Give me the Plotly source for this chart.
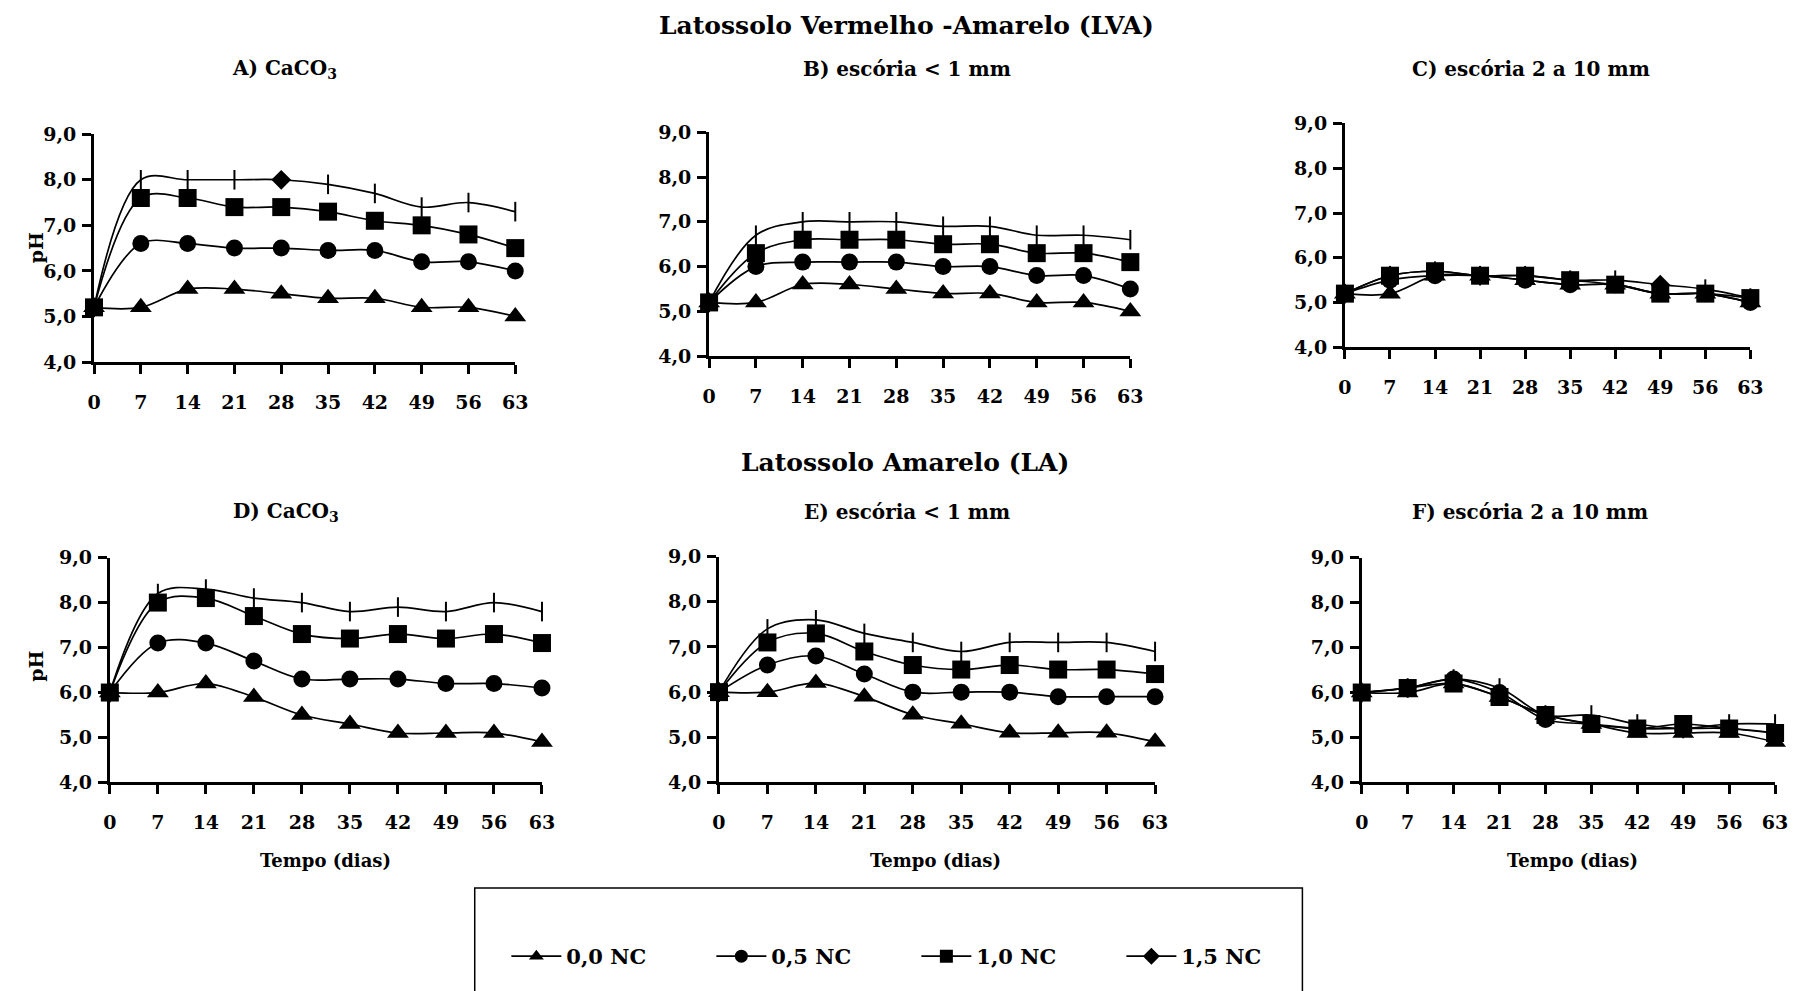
import plotly.graph_objects as go

W, H = 1795, 991

days = [0, 7, 14, 21, 28, 35, 42, 49, 56, 63]
doses = ["0,0 NC", "0,5 NC", "1,0 NC", "1,5 NC"]
ph_ticks = [4, 5, 6, 7, 8, 9]

# Latossolo Vermelho-Amarelo (LVA)
lva_caco3_00 = [5.2, 5.2, 5.6, 5.6, 5.5, 5.4, 5.4, 5.2, 5.2, 5.0]
lva_caco3_05 = [5.2, 6.6, 6.6, 6.5, 6.5, 6.45, 6.45, 6.2, 6.2, 6.0]
lva_caco3_10 = [5.2, 7.6, 7.6, 7.4, 7.4, 7.3, 7.1, 7.0, 6.8, 6.5]
lva_caco3_15 = [5.2, 8.0, 8.0, 8.0, 8.0, 7.9, 7.7, 7.4, 7.5, 7.3]

lva_fina_00 = [5.2, 5.2, 5.6, 5.6, 5.5, 5.4, 5.4, 5.2, 5.2, 5.0]
lva_fina_05 = [5.2, 6.0, 6.1, 6.1, 6.1, 6.0, 6.0, 5.8, 5.8, 5.5]
lva_fina_10 = [5.2, 6.3, 6.6, 6.6, 6.6, 6.5, 6.5, 6.3, 6.3, 6.1]
lva_fina_15 = [5.2, 6.7, 7.0, 7.0, 7.0, 6.9, 6.9, 6.7, 6.7, 6.6]

lva_grossa_00 = [5.2, 5.2, 5.6, 5.6, 5.5, 5.4, 5.4, 5.2, 5.2, 5.0]
lva_grossa_05 = [5.2, 5.5, 5.6, 5.6, 5.5, 5.4, 5.4, 5.2, 5.2, 5.0]
lva_grossa_10 = [5.2, 5.6, 5.7, 5.6, 5.6, 5.5, 5.4, 5.2, 5.2, 5.1]
lva_grossa_15 = [5.2, 5.6, 5.7, 5.6, 5.6, 5.5, 5.5, 5.4, 5.3, 5.1]

# Latossolo Amarelo (LA)
la_caco3_00 = [6.0, 6.0, 6.2, 5.9, 5.5, 5.3, 5.1, 5.1, 5.1, 4.9]
la_caco3_05 = [6.0, 7.1, 7.1, 6.7, 6.3, 6.3, 6.3, 6.2, 6.2, 6.1]
la_caco3_10 = [6.0, 8.0, 8.1, 7.7, 7.3, 7.2, 7.3, 7.2, 7.3, 7.1]
la_caco3_15 = [6.0, 8.2, 8.3, 8.1, 8.0, 7.8, 7.9, 7.8, 8.0, 7.8]

la_fina_00 = [6.0, 6.0, 6.2, 5.9, 5.5, 5.3, 5.1, 5.1, 5.1, 4.9]
la_fina_05 = [6.0, 6.6, 6.8, 6.4, 6.0, 6.0, 6.0, 5.9, 5.9, 5.9]
la_fina_10 = [6.0, 7.1, 7.3, 6.9, 6.6, 6.5, 6.6, 6.5, 6.5, 6.4]
la_fina_15 = [6.0, 7.4, 7.6, 7.3, 7.1, 6.9, 7.1, 7.1, 7.1, 6.9]

la_grossa_00 = [6.0, 6.0, 6.2, 5.9, 5.5, 5.3, 5.1, 5.1, 5.1, 4.9]
la_grossa_05 = [6.0, 6.1, 6.3, 6.0, 5.4, 5.3, 5.2, 5.2, 5.2, 5.1]
la_grossa_10 = [6.0, 6.1, 6.2, 5.9, 5.5, 5.3, 5.2, 5.3, 5.2, 5.1]
la_grossa_15 = [6.0, 6.1, 6.3, 6.1, 5.5, 5.5, 5.3, 5.2, 5.3, 5.3]

panel_titles = ["A) CaCO<sub>3</sub>", "B) escória &lt; 1 mm", "C) escória 2 a 10 mm",
                "D) CaCO<sub>3</sub>", "E) escória &lt; 1 mm", "F) escória 2 a 10 mm"]
panel_series = [
    [lva_caco3_00, lva_caco3_05, lva_caco3_10, lva_caco3_15],
    [lva_fina_00, lva_fina_05, lva_fina_10, lva_fina_15],
    [lva_grossa_00, lva_grossa_05, lva_grossa_10, lva_grossa_15],
    [la_caco3_00, la_caco3_05, la_caco3_10, la_caco3_15],
    [la_fina_00, la_fina_05, la_fina_10, la_fina_15],
    [la_grossa_00, la_grossa_05, la_grossa_10, la_grossa_15],
]

# plot areas in pixels: (left, right, top, bottom)
boxes = [
    (88, 514, 126, 359),
    (710, 1136, 124, 353),
    (1353, 1763, 115, 344),
    (104, 541, 559, 789),
    (720, 1161, 558, 789),
    (1370, 1788, 559, 789),
]
title_pos = [(281, 59), (910, 59), (1541, 59), (282, 512), (910, 512), (1540, 512)]
xtitle_pos = [(322, 869), (939, 869), (1583, 869)]
# days on which the 1,5 NC series shows a full diamond marker
diamond_day = {0: 28, 2: 49}

FONT = "DejaVu Serif, serif"


def fx(px):
    return px / W


def fy(py):
    return 1 - py / H


symbols = ["triangle-up", "circle", "square", "diamond"]
sizes = [19, 17, 18, 13]

fig = go.Figure()

for p, series in enumerate(panel_series):
    xa = "x" if p == 0 else f"x{p + 1}"
    ya = "y" if p == 0 else f"y{p + 1}"
    for k, vals in enumerate(series):
        if k < 3:
            marker = dict(symbol=symbols[k], size=sizes[k], color="black",
                          opacity=1, line=dict(width=0))
        else:
            sym = ["diamond" if (p in diamond_day and d == diamond_day[p]) else "line-ns"
                   for d in days]
            sz = [sizes[3] if s == "diamond" else 14 for s in sym]
            marker = dict(symbol=sym, size=sz, color="black", opacity=1,
                          line=dict(width=2, color="black"))
        fig.add_trace(go.Scatter(
            x=days, y=vals, xaxis=xa, yaxis=ya, mode="lines+markers",
            line=dict(color="black", width=1.7, shape="spline", smoothing=1.0),
            marker=marker, cliponaxis=False, showlegend=False,
            name=doses[k],
        ))

# legend entries
for k, name in enumerate(doses):
    fig.add_trace(go.Scatter(
        x=[None], y=[None], mode="lines+markers", name=name,
        line=dict(color="black", width=1.7),
        marker=dict(symbol=symbols[k], size=13, color="black", opacity=1),
        showlegend=True,
    ))

axis_font = dict(family=FONT, size=19, color="black", weight="bold")
layout_axes = {}
for p, (l, r, t, b) in enumerate(boxes):
    xn = "xaxis" if p == 0 else f"xaxis{p + 1}"
    yn = "yaxis" if p == 0 else f"yaxis{p + 1}"
    ya = "y" if p == 0 else f"y{p + 1}"
    xa = "x" if p == 0 else f"x{p + 1}"
    layout_axes[xn] = dict(
        domain=[fx(l), fx(r)], anchor=ya, range=[0, 63],
        tickmode="array", tickvals=days, ticktext=[str(d) for d in days],
        showline=True, linewidth=3, linecolor="black", mirror=False,
        ticks="outside", ticklen=9, tickwidth=3, tickcolor="black",
        showgrid=False, zeroline=False, tickfont=axis_font,
        ticklabelstandoff=12, fixedrange=True,
    )
    layout_axes[yn] = dict(
        domain=[fy(b), fy(t)], anchor=xa, range=[4, 9],
        tickmode="array", tickvals=ph_ticks, tickformat=".1f",
        showline=True, linewidth=3, linecolor="black",
        ticks="outside", ticklen=9, tickwidth=3, tickcolor="black",
        showgrid=False, zeroline=False, tickfont=axis_font,
        ticklabelstandoff=2, fixedrange=True,
    )

annotations = []


def add_text(text, px, py, size, angle=0):
    annotations.append(dict(
        text=text, x=fx(px), y=fy(py), xref="paper", yref="paper",
        xanchor="center", yanchor="middle", showarrow=False, textangle=angle,
        font=dict(family=FONT, size=size, color="black", weight="bold"),
    ))


add_text("Latossolo Vermelho -Amarelo (LVA)", 910, 15, 25)
add_text("Latossolo Amarelo (LA)", 908, 462, 25)
for p, (tx, ty) in enumerate(title_pos):
    add_text(panel_titles[p], tx, ty, 20)
for tx, ty in xtitle_pos:
    add_text("Tempo (dias)", tx, ty, 18)
add_text("pH", 29, 242, 19, angle=-90)
add_text("pH", 29, 670, 19, angle=-90)

fig.update_layout(
    width=W, height=H,
    margin=dict(l=0, r=0, t=0, b=0),
    paper_bgcolor="white", plot_bgcolor="white",
    separators=", ",
    showlegend=True,
    legend=dict(
        orientation="h", x=fx(505), y=fy(967), xanchor="left", yanchor="middle",
        font=dict(family=FONT, size=21, color="black", weight="bold"),
        bgcolor="rgba(0,0,0,0)", borderwidth=0,
        itemwidth=50, entrywidth=140, entrywidthmode="pixels",
        tracegroupgap=0,
    ),
    shapes=[dict(type="rect", xref="paper", yref="paper",
                 x0=fx(473), x1=fx(1310), y0=fy(1015), y1=fy(897),
                 line=dict(color="black", width=1.5), fillcolor="rgba(0,0,0,0)")],
    annotations=annotations,
    **layout_axes,
)

fig.write_html("out.html")
